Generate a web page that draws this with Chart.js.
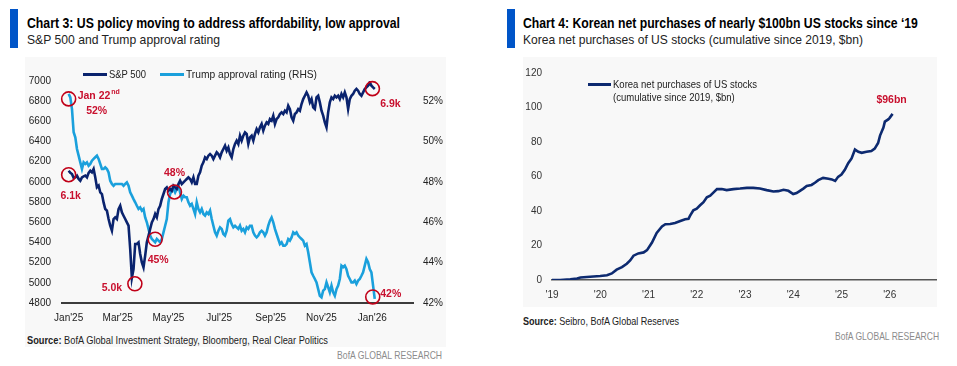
<!DOCTYPE html>
<html lang="en">
<head>
<meta charset="UTF-8">
<title>Chart 3 / Chart 4</title>
<script src="https://cdn.jsdelivr.net/npm/chart.js"></script>
<style>
  body { margin: 0; width: 957px; height: 366px; background: #fff; position: relative; overflow: hidden;
         font-family: "Liberation Sans", sans-serif; color: #111; }
  .abs { position: absolute; white-space: nowrap; line-height: 1; transform-origin: left center; }
  .bar { position: absolute; top: 9px; width: 8px; height: 39px; background: #0055c8; }
  .title { font-weight: bold; font-size: 14px; color: #000; top: 16px; }
  .sub { font-size: 13px; color: #222; top: 33px; }
  .box { position: absolute; background: #f8f8f8; }
  .src { font-size: 11px; color: #222; }
  .brand { font-size: 11px; color: #8c8c8c; transform-origin: right center; }
  .sw { position: absolute; height: 3px; }
  .leg { font-size: 11.5px; color: #222; }
  canvas { position: absolute; }
</style>
</head>
<body>

<div class="box" style="left:25px; top:57px; width:421px; height:290px;"></div>
<div class="box" style="left:523px; top:57px; width:414px; height:250px;"></div>

<div class="bar" style="left:10px;"></div>
<div class="abs title" data-w="373" style="left:27px;">Chart 3: US policy moving to address affordability, low approval</div>
<div class="abs sub" data-w="193" style="left:27px;">S&amp;P 500 and Trump approval rating</div>

<div class="bar" style="left:507px;"></div>
<div class="abs title" data-w="395" style="left:523px;">Chart 4: Korean net purchases of nearly $100bn US stocks since ‘19</div>
<div class="abs sub" data-w="340" style="left:523px;">Korea net purchases of US stocks (cumulative since 2019, $bn)</div>

<canvas id="c3" width="440" height="270" style="left:10px; top:60px;"></canvas>
<canvas id="c4" width="450" height="250" style="left:495px; top:57px;"></canvas>

<div class="sw" style="left:83px; top:73px; width:24px; background:#0a236e;"></div>
<div class="abs leg" data-w="37" style="left:109px; top:69px;">S&amp;P 500</div>
<div class="sw" style="left:160px; top:73px; width:24px; background:#1aa0dc;"></div>
<div class="abs leg" data-w="131" style="left:186px; top:69px;">Trump approval rating (RHS)</div>

<div class="sw" style="left:588px; top:83px; width:23px; background:#0d2a70;"></div>
<div class="abs leg" data-w="144" style="left:613px; top:78px; line-height:13.4px;">Korea net purchases of US stocks<br>(cumulative since 2019, $bn)</div>

<div class="abs src" data-w="301" style="left:27px; top:335px;"><b>Source:</b> BofA Global Investment Strategy, Bloomberg, Real Clear Politics</div>
<div class="abs brand" data-w="105" style="right:515px; top:350px;">BofA GLOBAL RESEARCH</div>
<div class="abs src" data-w="156" style="left:523px; top:316px;"><b>Source:</b> Seibro, BofA Global Reserves</div>
<div class="abs brand" data-w="104" style="right:18px; top:331px;">BofA GLOBAL RESEARCH</div>

<script>
// the house font is condensed: squeeze each text line to its width in the reference
document.querySelectorAll('[data-w]').forEach(el => {
  const k = Number(el.dataset.w) / el.getBoundingClientRect().width;
  el.style.transform = 'scaleX(' + k.toFixed(3) + ')';
});

// Chart 3: days counted from 22 Jan 2025
const spxDays = [0,2,4,6,8,10,12,14,16,18,20,22,24,26,28,30,32,34,36,38,40,42,44,46,48,50,52,54,56,58,
  60,62,64,66,68,70,72,74,76,78,80,82,84,86,88,90,92,94,96,98,100,102,104,106,108,110,112,114,116,118,
  120,122,124,126,128,130,132,134,136,138,140,142,144,146,148,150,152,154,156,158,160,162,164,166,168,170,172,174,176,178,
  180,182,184,186,188,190,192,194,196,198,200,202,204,206,208,210,212,214,216,218,220,222,224,226,228,230,232,234,236,238,
  240,242,244,246,248,250,252,254,256,258,260,262,264,266,268,270,272,274,276,278,280,282,284,286,288,290,292,294,296,298,
  300,302,304,306,308,310,312,314,316,318,320,322,324,326,328,330,332,334,336,338,340,342,344,346,348,350,352,354,356,358,
  360,362,364,366,368];

const spxValues = [6111,6090,6078,6040,6045,6062,6030,6012,6045,6055,6062,6045,6090,6111,6095,
  6128,6045,5946,5963,5897,5880,5797,5731,5715,5632,5566,5517,5632,5649,5632,5731,5764,5698,5665,5632,
  5599,5566,5335,5050,5137,5385,5385,5401,5286,5203,5153,5269,5401,5467,5533,5599,5632,5682,5649,5731,
  5764,5831,5880,5930,5946,5913,5930,5913,5963,5946,5930,5979,6012,5979,5996,6012,6029,6045,6029,5996,
  6045,5979,5979,6062,6095,6161,6194,6243,6227,6260,6276,6260,6227,6260,6293,6276,6243,6293,6326,6359,
  6309,6342,6276,6243,6326,6376,6409,6376,6458,6409,6458,6491,6475,6376,6442,6458,6409,6475,6524,6491,
  6541,6574,6508,6557,6590,6574,6623,6607,6656,6574,6623,6640,6673,6689,6673,6706,6689,6755,6722,6640,
  6607,6673,6689,6722,6706,6772,6821,6854,6887,6854,6788,6821,6739,6722,6838,6854,6788,6706,6656,6590,
  6541,6689,6788,6838,6821,6854,6838,6854,6821,6871,6838,6887,6838,6722,6821,6854,6871,6904,6921,6904,
  6871,6854,6887,6921,6937,6954,6987,6954,6937,6921];

const approvalValues = [52.36,52.19,51.61,50.46,50.21,49.63,49.30,48.97,48.64,48.97,
  48.89,48.97,48.80,48.89,49.05,49.14,49.22,49.30,49.14,48.89,
  48.64,48.64,48.72,48.64,48.47,48.06,47.90,47.81,47.90,47.90,
  47.90,47.90,47.90,47.81,47.90,47.98,47.81,47.48,47.32,47.15,
  46.99,46.82,46.66,46.74,46.58,46.66,46.24,46.00,45.67,45.34,
  45.17,45.09,45.01,45.17,45.09,45.01,45.17,45.50,45.83,46.16,
  46.99,47.40,47.57,47.65,47.48,47.65,47.81,47.48,47.15,47.32,
  47.24,47.24,46.99,46.82,46.91,46.66,46.41,46.99,46.66,46.49,
  46.66,46.41,46.33,46.49,46.41,46.58,46.16,45.83,45.50,45.34,
  45.58,45.75,45.67,45.42,45.34,45.58,46.08,46.16,45.91,45.75,
  45.83,45.75,45.67,45.83,45.58,45.67,45.50,45.75,45.67,45.83,
  45.83,45.50,45.34,45.25,45.34,45.50,45.58,45.50,45.34,45.50,
  45.83,46.08,46.24,46.00,45.67,45.42,45.17,44.92,45.01,44.84,
  44.84,44.92,45.17,45.09,45.25,45.50,45.42,45.50,45.34,45.25,
  45.17,45.09,44.84,44.92,44.51,44.02,43.52,43.35,43.19,43.02,
  42.69,42.36,42.28,42.61,42.69,43.02,42.78,42.53,42.86,42.53,
  42.36,42.69,42.86,43.19,43.85,43.77,43.85,43.68,43.35,43.19,
  43.02,43.02,43.11,42.94,43.11,43.19,43.35,43.52,43.85,44.18,
  44.02,43.68,43.52,42.86,42.20];

const c3TickDays = [0, 59, 120, 181, 243, 304, 365];
const c3TickLabels = ["Jan'25", "Mar'25", "May'25", "Jul'25", "Sep'25", "Nov'25", "Jan'26"];

// Chart 4
const koreaYears = [2019.00,2019.17,2019.38,2019.52,2019.59,2019.79,2020.00,2020.14,2020.24,2020.34,
  2020.45,2020.55,2020.62,2020.69,2020.79,2020.90,2020.97,2021.07,2021.17,2021.28,
  2021.35,2021.45,2021.55,2021.66,2021.76,2021.83,2021.86,2021.93,2022.00,2022.07,
  2022.14,2022.21,2022.28,2022.35,2022.42,2022.52,2022.62,2022.76,2022.90,2023.04,
  2023.17,2023.31,2023.45,2023.59,2023.69,2023.80,2023.90,2024.00,2024.07,2024.14,
  2024.21,2024.28,2024.38,2024.45,2024.52,2024.62,2024.73,2024.80,2024.87,2024.93,
  2025.00,2025.07,2025.14,2025.21,2025.28,2025.35,2025.42,2025.52,2025.62,2025.69,
  2025.76,2025.80,2025.87,2025.90,2025.97,2026.00,2026.06];
const koreaValues = [0,0,0.4,0.9,1.5,1.9,2.3,2.8,3.8,6.0,
  7.5,9.4,11.3,14.1,15.4,16.0,17.3,21.6,27.3,31.0,
  32.3,32.5,33.1,34.2,35.2,35.5,37.2,40.4,41.4,43.3,
  45.1,48.0,48.9,50.8,52.7,52.7,52.1,52.7,53.0,53.4,
  53.4,53.0,52.1,51.3,51.5,52.3,51.7,49.8,50.4,51.7,
  53.0,54.5,55.1,56.4,57.9,59.2,58.7,58.3,57.4,59.8,
  61.1,63.9,67.7,70.5,75.6,74.3,73.7,74.3,74.8,76.2,
  79.4,83.7,88.4,91.8,93.1,94.0,96.3];
const c4TickYears = [2019, 2020, 2021, 2022, 2023, 2024, 2025, 2026];
const c4TickLabels = ["'19", "'20", "'21", "'22", "'23", "'24", "'25", "'26"];

const NAVY = '#0a236e', SKY = '#1aa0dc', RED = '#c8102e';

Chart.defaults.font.family = '"Liberation Sans", sans-serif';
Chart.defaults.font.size = 10;
Chart.defaults.color = '#222';

// red circles and labels; dx/dy move the circle from the data point, tx/ty move the text from the circle
const c3Notes = [
  { ds: 1, i: 0,   dx: 0,  dy: 5,  text: 'Jan 22', sup: 'nd', tx: 9, ty: -3, align: 'left' },
  { ds: 1, i: 0,   dx: 0,  dy: 5,  text: '52%', tx: 28, ty: 12, noCircle: true },
  { ds: 0, i: 0,   dx: 0,  dy: 4,  text: '6.1k', tx: 2, ty: 21 },
  { ds: 0, i: 38,  dx: 3,  dy: 6,  text: '5.0k', tx: -23, ty: 4 },
  { ds: 1, i: 52,  dx: 0,  dy: -3, text: '45%', tx: 3, ty: 21 },
  { ds: 1, i: 63,  dx: 1,  dy: 3,  text: '48%', tx: 0, ty: -19 },
  { ds: 0, i: 182, dx: 1,  dy: 3,  text: '6.9k', tx: 18, ty: 15 },
  { ds: 1, i: 184, dx: -2, dy: -2, text: '42%', tx: 18, ty: -3 }
];

const notesPlugin = {
  id: 'notes',
  afterDatasetsDraw(chart, args, opts) {
    const ctx = chart.ctx;
    ctx.save();
    (opts.items || []).forEach(n => {
      const pt = chart.getDatasetMeta(n.ds).data[n.i];
      const cx = pt.x + (n.dx || 0), cy = pt.y + (n.dy || 0);
      if (opts.circles && !n.noCircle) {
        ctx.strokeStyle = '#c00018';
        ctx.lineWidth = 1.6;
        ctx.beginPath();
        ctx.arc(cx, cy, 7, 0, Math.PI * 2);
        ctx.stroke();
      }
      ctx.fillStyle = RED;
      ctx.font = 'bold 10.5px "Liberation Sans", sans-serif';
      ctx.textBaseline = 'middle';
      ctx.textAlign = n.align || 'center';
      const x = cx + n.tx, y = cy + n.ty;
      ctx.fillText(n.text, x, y);
      if (n.sup) {
        const w = ctx.measureText(n.text).width;
        ctx.font = 'bold 7px "Liberation Sans", sans-serif';
        ctx.textAlign = 'left';
        ctx.fillText(n.sup, x + w + 1, y - 4);
      }
    });
    ctx.restore();
  }
};

const noGrid = { display: false, drawTicks: false };

new Chart(document.getElementById('c3'), {
  type: 'line',
  data: {
    datasets: [
      { label: 'S&P 500', data: spxDays.map((d, i) => ({ x: d, y: spxValues[i] })), yAxisID: 'y',
        borderColor: NAVY, borderWidth: 2.6, pointRadius: 0, tension: 0 },
      { label: 'Trump approval rating (RHS)', data: spxDays.map((d, i) => ({ x: d, y: approvalValues[i] })), yAxisID: 'y1',
        borderColor: SKY, borderWidth: 2.6, pointRadius: 0, tension: 0 }
    ]
  },
  options: {
    responsive: false,
    animation: false,
    layout: { padding: { top: 21, left: 0, right: 0, bottom: 0 } },
    plugins: {
      legend: { display: false },
      tooltip: { enabled: false },
      notes: { items: c3Notes, circles: true }
    },
    scales: {
      x: {
        type: 'linear', min: -8, max: 414,
        grid: noGrid,
        border: { display: true, color: '#3c3c3c', width: 2 },
        afterBuildTicks: s => { s.ticks = c3TickDays.map(v => ({ value: v })); },
        afterFit: s => { s.height = 27; },
        ticks: { autoSkip: false, maxRotation: 0, padding: 9, callback: (v, i) => c3TickLabels[i] }
      },
      y: {
        position: 'left', min: 4800, max: 7000,
        grid: noGrid, border: { display: false },
        afterFit: s => { s.width = 52; },
        ticks: { stepSize: 200, padding: 11, callback: v => String(v) }
      },
      y1: {
        position: 'right', min: 42, max: 53,
        grid: noGrid, border: { display: false },
        afterFit: s => { s.width = 37; },
        ticks: { stepSize: 2, includeBounds: false, padding: 10, callback: v => v + '%' }
      }
    }
  },
  plugins: [notesPlugin]
});

new Chart(document.getElementById('c4'), {
  type: 'line',
  data: {
    datasets: [
      { label: 'Korea net purchases of US stocks (cumulative since 2019, $bn)',
        data: koreaYears.map((yr, i) => ({ x: yr, y: koreaValues[i] })),
        borderColor: '#0d2a70', borderWidth: 2.6, pointRadius: 0, tension: 0 }
    ]
  },
  options: {
    responsive: false,
    animation: false,
    layout: { padding: { top: 10, left: 0, right: 9, bottom: 0 } },
    plugins: {
      legend: { display: false },
      tooltip: { enabled: false },
      notes: { items: [{ ds: 0, i: koreaValues.length - 1, text: '$96bn', tx: -1, ty: -14 }], circles: false }
    },
    scales: {
      x: {
        type: 'linear', min: 2019, max: 2026.96,
        grid: noGrid,
        border: { display: true, color: '#555', width: 1.6 },
        afterBuildTicks: s => { s.ticks = c4TickYears.map(v => ({ value: v })); },
        afterFit: s => { s.height = 27; },
        ticks: { autoSkip: false, maxRotation: 0, padding: 9, color: '#333', callback: (v, i) => c4TickLabels[i] }
      },
      y: {
        min: 0, max: 120,
        grid: noGrid, border: { display: false },
        afterFit: s => { s.width = 57; },
        ticks: { stepSize: 20, padding: 10, color: '#333' }
      }
    }
  },
  plugins: [notesPlugin]
});
</script>
</body>
</html>
